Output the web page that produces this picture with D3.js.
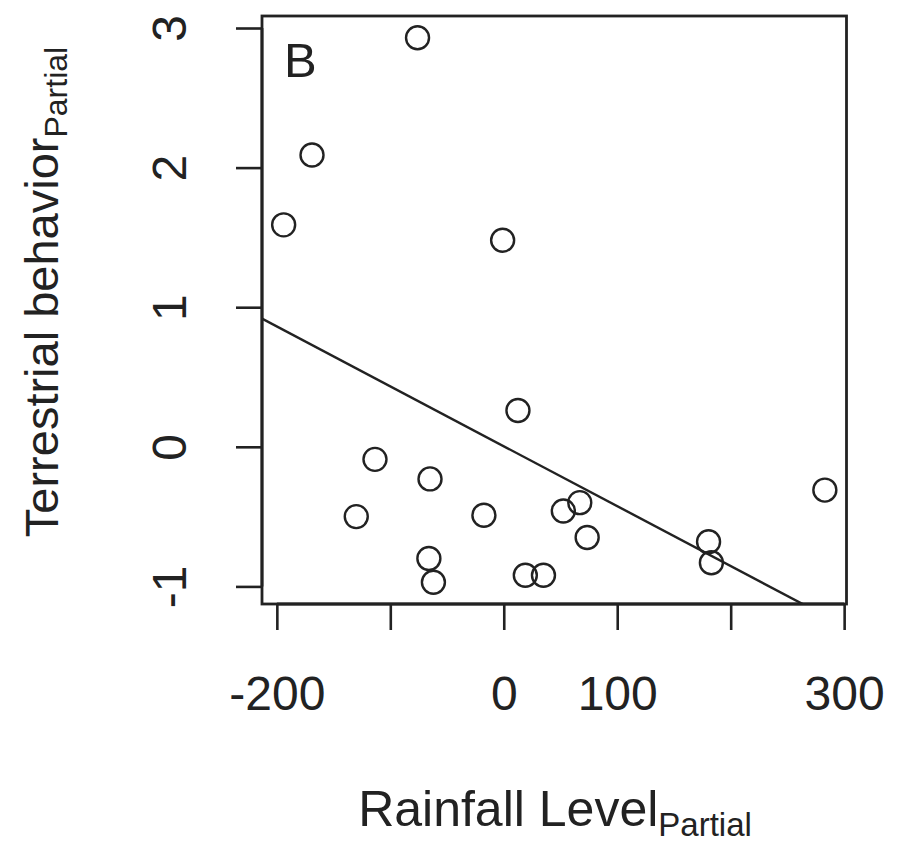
<!DOCTYPE html>
<html>
<head>
<meta charset="utf-8">
<script src="https://cdn.jsdelivr.net/npm/d3@7"></script>
<style>
  html, body { margin: 0; padding: 0; background: #fff; }
  svg { display: block; }
  text { font-family: "Liberation Sans", Arial, sans-serif; fill: #222; }
</style>
</head>
<body>
<div id="chart"></div>
<script>
// ---- data ----
const rainfall = [-76, -169, -194, -1, 12.5, -113.5, -65, -130, -17.5, 52.5, 67, 73.5, -66, -62, 19, 35, 180.5, 183, 283];
const terrestrial = [2.93, 2.09, 1.59, 1.48, 0.26, -0.09, -0.23, -0.50, -0.49, -0.46, -0.40, -0.65, -0.80, -0.97, -0.92, -0.92, -0.68, -0.83, -0.31];
const fitIntercept = [0.004];
const fitSlope = [-0.00429];
const xTicks = [-200, -100, 0, 100, 200, 300];
const xTickLabels = ["-200", "", "0", "100", "", "300"];
const yTicks = [-1, 0, 1, 2, 3];
const yTickLabels = ["-1", "0", "1", "2", "3"];
const panelLabel = "B";
const xTitle = ["Rainfall Level", "Partial"];
const yTitle = ["Terrestrial behavior", "Partial"];

// ---- layout ----
const W = 897, H = 843;
const plot = { left: 262, right: 846.5, top: 16, bottom: 604 };
const ink = "#222";

const svg = d3.select("#chart").append("svg").attr("width", W).attr("height", H);

// R style 4% extension of data range
const xe = d3.extent(rainfall), ye = d3.extent(terrestrial);
const xp = (xe[1] - xe[0]) * 0.04, yp = (ye[1] - ye[0]) * 0.04;
const x = d3.scaleLinear().domain([xe[0] - xp, xe[1] + xp]).range([plot.left, plot.right]);
const y = d3.scaleLinear().domain([ye[0] - yp, ye[1] + yp]).range([plot.bottom, plot.top]);

// clip
svg.append("defs").append("clipPath").attr("id", "clip")
  .append("rect").attr("x", plot.left).attr("y", plot.top)
  .attr("width", plot.right - plot.left).attr("height", plot.bottom - plot.top);

// regression line
const xd = x.domain();
svg.append("line")
  .attr("clip-path", "url(#clip)")
  .attr("x1", x(xd[0])).attr("y1", y(fitIntercept[0] + fitSlope[0] * xd[0]))
  .attr("x2", x(xd[1])).attr("y2", y(fitIntercept[0] + fitSlope[0] * xd[1]))
  .attr("stroke", ink).attr("stroke-width", 2.4);

// points
svg.append("g").selectAll("circle").data(rainfall).join("circle")
  .attr("cx", d => x(d))
  .attr("cy", (d, i) => y(terrestrial[i]))
  .attr("r", 11.5)
  .attr("fill", "none")
  .attr("stroke", ink)
  .attr("stroke-width", 2.4);

// box
svg.append("rect")
  .attr("x", plot.left).attr("y", plot.top)
  .attr("width", plot.right - plot.left).attr("height", plot.bottom - plot.top)
  .attr("fill", "none").attr("stroke", ink).attr("stroke-width", 2.8);

// x axis
const xAxis = d3.axisBottom(x).tickValues(xTicks).tickSize(26).tickPadding(46)
  .tickFormat((d, i) => xTickLabels[i]);
const gx = svg.append("g").attr("transform", `translate(0,${plot.bottom})`).call(xAxis);
gx.select(".domain").attr("d", `M${x(xTicks[0])},0H${x(xTicks[xTicks.length - 1])}`)
  .attr("stroke", ink).attr("stroke-width", 2.8);
gx.selectAll(".tick line").attr("stroke", ink).attr("stroke-width", 2.6);
gx.selectAll(".tick text").attr("font-size", 48).attr("fill", "#222")
  .attr("font-family", "Liberation Sans, Arial, sans-serif")
  .attr("dy", "0.71em");

// y axis
const yAxis = d3.axisLeft(y).tickValues(yTicks).tickSize(26).tickPadding(0)
  .tickFormat((d, i) => yTickLabels[i]);
const gy = svg.append("g").attr("transform", `translate(${plot.left},0)`).call(yAxis);
gy.select(".domain").attr("d", `M0,${y(yTicks[0])}V${y(yTicks[yTicks.length - 1])}`)
  .attr("stroke", ink).attr("stroke-width", 2.8);
gy.selectAll(".tick line").attr("stroke", ink).attr("stroke-width", 2.6);
gy.selectAll(".tick text")
  .attr("font-size", 48).attr("fill", "#222")
  .attr("font-family", "Liberation Sans, Arial, sans-serif")
  .attr("x", null).attr("dy", null)
  .attr("text-anchor", "middle")
  .attr("transform", `translate(${186 - plot.left},0) rotate(-90)`);

// panel label
svg.append("text").attr("x", 284).attr("y", 77)
  .attr("font-size", 49).text(panelLabel);

// x title with subscript
const xt = svg.append("text").attr("x", 555).attr("y", 826)
  .attr("text-anchor", "middle").attr("font-size", 50);
xt.append("tspan").text(xTitle[0]);
xt.append("tspan").attr("font-size", 33).attr("dy", 10).text(xTitle[1]);

// y title with subscript
const yt = svg.append("text")
  .attr("transform", `translate(58,${(537 + 47) / 2}) rotate(-90)`)
  .attr("text-anchor", "middle").attr("font-size", 47);
yt.append("tspan").text(yTitle[0]);
yt.append("tspan").attr("font-size", 32).attr("dy", 9).text(yTitle[1]);
</script>
</body>
</html>
